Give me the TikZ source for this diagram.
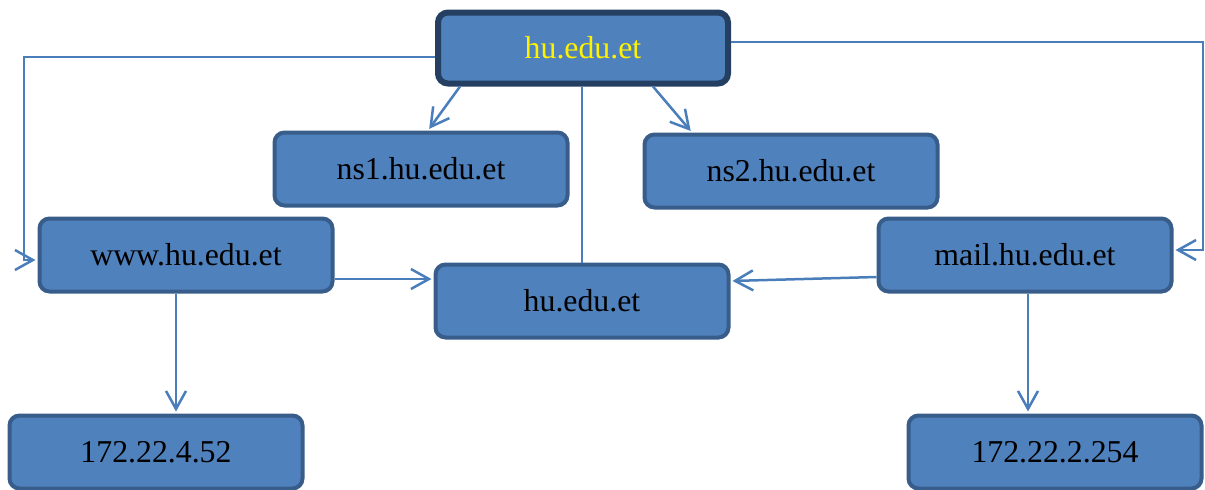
\documentclass[tikz,border=0pt]{standalone}
\usepackage{fontspec}
\setmainfont{Liberation Serif}
\usepackage{tikz}
\usetikzlibrary{arrows.meta}
\definecolor{boxfill}{RGB}{79,129,189}
\definecolor{boxline}{RGB}{56,93,138}
\definecolor{topline}{RGB}{36,63,98}
\definecolor{wire}{RGB}{74,126,187}

\begin{document}
\begin{tikzpicture}[x=0.5pt,y=-0.5pt,
	box/.style={fill=boxfill,draw=boxline,line width=2pt,rounded corners=5pt,minimum width=146.5pt,minimum height=36.5pt,inner sep=0pt,font=\fontsize{15.9}{18}\selectfont},
	link/.style={draw=wire,line width=1.25pt,shorten >=1pt,-{Straight Barb[length=9pt,width=10pt,line width=1.25pt]}},
	plain/.style={draw=wire,line width=1.25pt}]
					\useasboundingbox (0,0) rectangle (1205,489);
					\coordinate (c0) at (583,48);
					\coordinate (c1) at (421,169);
					\coordinate (c2) at (791,171);
					\coordinate (c3) at (186,255);
					\coordinate (c4) at (582,301);
					\coordinate (c5) at (1025,255);
					\coordinate (c6) at (156,452);
					\coordinate (c7) at (1055,452);
					\coordinate (lbend) at (24,57);
					\coordinate (rbend) at (1203,42);
					
					\node (root) at (c0) [box,draw=topline,line width=3pt,text=yellow,minimum width=145pt,minimum height=35.5pt] {hu.edu.et};
					\node (ns1) at (c1) [box] {ns1.hu.edu.et};
					\node (ns2) at (c2) [box] {ns2.hu.edu.et};
					\node (www) at (c3) [box] {www.hu.edu.et};
					\node (zone) at (c4) [box] {hu.edu.et};
					\node (mail) at (c5) [box] {mail.hu.edu.et};
					\node (ip1) at (c6) [box] {172.22.4.52};
					\node (ip2) at (c7) [box] {172.22.2.254};
					
					\draw[link] (root.west |- lbend) -- (lbend) |- ([yshift=-2.5pt]www.west);
					\draw[link] (root.east |- rbend) -- (rbend) |- ([yshift=2.5pt]mail.east);
					\draw[link] ([xshift=-61.5pt]root.south) -- ([xshift=3.5pt]ns1.north);
					\draw[link] ([xshift=35pt]root.south) -- ([xshift=-49.5pt]ns2.north);
					\draw[plain] (root.south -| zone.north) -- (zone.north);
					\draw[link] ([yshift=-12pt]www.east) -- ([yshift=11pt]zone.west);
					\draw[link] ([yshift=-11pt]mail.west) -- ([yshift=10pt]zone.east);
					\draw[link] ([xshift=-5pt]www.south) -- ([xshift=10pt]ip1.north);
					\draw[link] ([xshift=1.5pt]mail.south) -- ([xshift=-13.5pt]ip2.north);
				\end{tikzpicture}
\end{document}
